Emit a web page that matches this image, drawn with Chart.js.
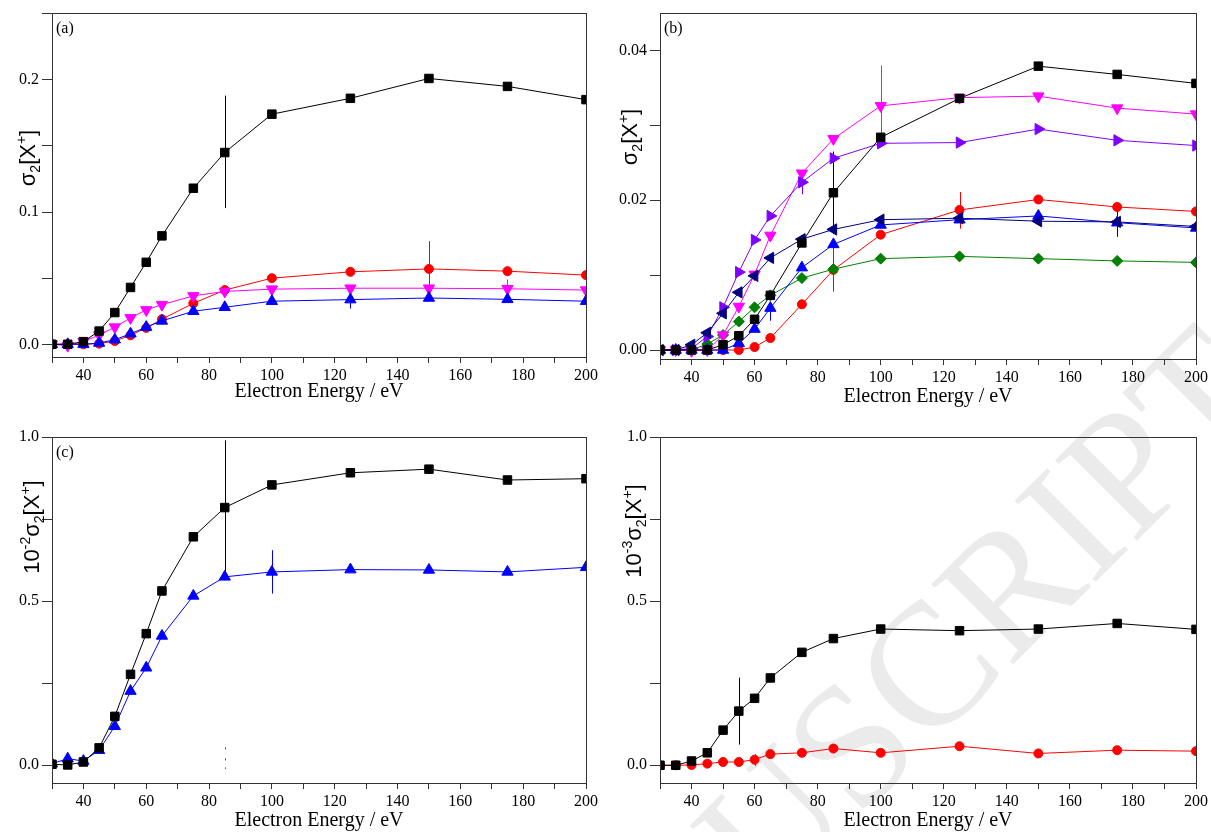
<!DOCTYPE html>
<html>
<head>
<meta charset="utf-8">
<script src="https://cdn.jsdelivr.net/npm/chart.js@4.4.1/dist/chart.umd.min.js"></script>
<style>
  html, body { margin: 0; padding: 0; background: #fff; width: 1211px; height: 832px; overflow: hidden; position: relative; }
  .panel { position: absolute; }
  .wm { position: absolute; left: 376px; top: 1095px; transform-origin: 0 0; transform: rotate(-45deg);
        font: 175px/1 "Liberation Serif", "Times New Roman", serif; color: #ebebeb; white-space: nowrap; }
</style>
</head>
<body>
<div class="wm">MANUSCRIPT</div>
<div class="panel" style="left:0;top:0;width:605px;height:416px"><canvas id="ca"></canvas></div>
<div class="panel" style="left:605px;top:0;width:606px;height:416px"><canvas id="cb"></canvas></div>
<div class="panel" style="left:0;top:420px;width:605px;height:430px"><canvas id="cc"></canvas></div>
<div class="panel" style="left:605px;top:420px;width:606px;height:430px"><canvas id="cd"></canvas></div>
<script>
  // electron energies (eV), shared by every series
  const energy = [30, 35, 40, 45, 50, 55, 60, 65, 75, 85, 100, 125, 150, 175, 200];
  const xLabelled = [40, 60, 80, 100, 120, 140, 160, 180, 200];

  // panel (a)
  const aBlack   = [0, 0, 0.002, 0.010, 0.024, 0.043, 0.062, 0.082, 0.118, 0.145, 0.174, 0.186, 0.201, 0.195, 0.185];
  const aRed     = [0, 0, 0, 0.0005, 0.0025, 0.0068, 0.0124, 0.019, 0.031, 0.041, 0.050, 0.0548, 0.057, 0.0553, 0.0523];
  const aMagenta = [0, -0.001, 0.002, 0.007, 0.013, 0.020, 0.026, 0.030, 0.0366, 0.040, 0.0417, 0.0424, 0.0424, 0.042, 0.041];
  const aBlue    = [0, 0, 0, 0.001, 0.0035, 0.008, 0.013, 0.0177, 0.025, 0.028, 0.0326, 0.0338, 0.035, 0.034, 0.0326];
  const aBlackErr   = [[85, 0.103, 0.188]];
  const aRedErr     = [[150, 0.036, 0.078]];
  const aMagentaErr = [[175, 0.035, 0.049]];
  const aBlueErr    = [[125, 0.027, 0.037]];
  const aYLabels = [0, 0.1, 0.2];

  // panel (b)
  const bBlack   = [0, 0, 0, 0, 0.0007, 0.0019, 0.0041, 0.0073, 0.0143, 0.021, 0.0284, 0.0336, 0.0379, 0.0368, 0.0356];
  const bMagenta = [0, 0, -0.0001, 0, 0.002, 0.0058, 0.0101, 0.0153, 0.0236, 0.0282, 0.0326, 0.0337, 0.0339, 0.0323, 0.0315];
  const bPurple  = [0, 0, 0.0002, 0.0018, 0.0057, 0.0104, 0.0147, 0.0179, 0.0224, 0.0256, 0.0276, 0.0277, 0.0295, 0.028, 0.0273];
  const bNavy    = [0, 0, 0.0007, 0.0023, 0.0049, 0.0077, 0.0099, 0.0123, 0.0148, 0.0161, 0.0174, 0.0176, 0.0172, 0.0171, 0.0165];
  const bBlue    = [0, 0, 0, 0, 0, 0.0009, 0.0028, 0.0056, 0.011, 0.0141, 0.0167, 0.0174, 0.0179, 0.017, 0.0163];
  const bRed     = [0, 0, 0, 0, 0, 0, 0.0004, 0.0016, 0.0061, 0.0107, 0.0154, 0.0187, 0.0201, 0.0191, 0.0185];
  const bGreen   = [0, 0, 0, 0.0008, 0.002, 0.0038, 0.0057, 0.0073, 0.0096, 0.0108, 0.0122, 0.0125, 0.0122, 0.0119, 0.0117];
  const bBlackErr   = [[85, 0.0155, 0.0265]];
  const bMagentaErr = [[100, 0.0273, 0.038]];
  const bPurpleErr  = [[75, 0.0208, 0.024]];
  const bNavyErr    = [[175, 0.0151, 0.0187]];
  const bBlueErr    = [[65, 0.0039, 0.0058]];
  const bRedErr     = [[125, 0.0162, 0.0211]];
  const bGreenErr   = [[85, 0.0078, 0.014]];
  const bYLabels = [0, 0.02, 0.04];

  // panel (c)
  const cBlack = [0.003, 0.001, 0.01, 0.053, 0.149, 0.277, 0.401, 0.531, 0.696, 0.785, 0.854, 0.891, 0.902, 0.869, 0.873];
  const cBlue  = [0.005, 0.020, 0.013, 0.046, 0.119, 0.226, 0.297, 0.394, 0.516, 0.574, 0.589, 0.596, 0.595, 0.589, 0.603];
  const cBlackErr   = [[85, 0.58, 0.99]];
  const cBlueErr    = [[100, 0.523, 0.655]];
  const cRedErr     = [[85, 0.015, 0.06]];
  const cMagentaErr = [[85, -0.012, 0.0]];
  const cYLabels = [0, 0.5, 1.0];

  // panel (d)
  const dBlack = [0, 0, 0.013, 0.038, 0.107, 0.165, 0.204, 0.266, 0.344, 0.386, 0.415, 0.410, 0.415, 0.432, 0.414];
  const dRed   = [0, 0, 0.001, 0.005, 0.010, 0.010, 0.017, 0.034, 0.038, 0.051, 0.038, 0.058, 0.036, 0.046, 0.043];
  const dBlackErr = [[55, 0.063, 0.267]];
  const dRedErr   = [[60, -0.002, 0.034]];

  Chart.defaults.font.family = '"Liberation Serif", "Times New Roman", serif';
  Chart.defaults.font.size = 16;
  Chart.defaults.color = '#000';

  const SQ    = {pointStyle: 'rect', pointRadius: 6};
  const CIR   = {pointStyle: 'circle', pointRadius: 4.5};
  const UP    = {pointStyle: 'triangle', pointRadius: 6.5};
  const DOWN  = {pointStyle: 'triangle', pointRadius: 6.5, pointRotation: 180};
  const RIGHT = {pointStyle: 'triangle', pointRadius: 6.5, pointRotation: 90};
  const LEFT  = {pointStyle: 'triangle', pointRadius: 6.5, pointRotation: -90};
  const DIA   = {pointStyle: 'rectRot', pointRadius: 5.5};

  function series(vals, color, marker, errs, dash) {
    return Object.assign({
      data: vals ? energy.map((e, i) => ({x: e, y: vals[i]})) : [],
      borderColor: color, backgroundColor: color,
      pointBackgroundColor: color, pointBorderColor: color,
      borderWidth: 1, pointBorderWidth: 1, tension: 0, fill: false,
      errorBars: errs || [], errDash: dash || []
    }, marker || {});
  }

  // vertical error bars, drawn under the markers
  const errPlugin = {
    id: 'errBars',
    beforeDatasetsDraw(chart) {
      const {ctx, scales: {x, y}} = chart;
      ctx.save();
      chart.data.datasets.forEach(ds => {
        ds.errorBars.forEach(e => {
          const px = Math.round(x.getPixelForValue(e[0])) + 0.5;
          ctx.strokeStyle = ds.borderColor;
          ctx.lineWidth = 1;
          ctx.setLineDash(ds.errDash);
          ctx.beginPath();
          ctx.moveTo(px, y.getPixelForValue(e[1]));
          ctx.lineTo(px, y.getPixelForValue(e[2]));
          ctx.stroke();
        });
      });
      ctx.restore();
    }
  };

  // box round the plot area
  const framePlugin = {
    id: 'frame',
    afterDraw(chart) {
      const {ctx, chartArea: a} = chart;
      ctx.save();
      ctx.strokeStyle = '#333';
      ctx.lineWidth = 1;
      ctx.strokeRect(Math.round(a.left) + 0.5, Math.round(a.top) + 0.5,
        Math.round(a.right - a.left), Math.round(a.bottom - a.top));
      ctx.restore();
    }
  };

  // rotated y title with sub/superscripts
  const yTitlePlugin = {
    id: 'yTitle',
    afterDraw(chart, args, o) {
      if (!o.parts) return;
      const ctx = chart.ctx;
      const big = '22px "Liberation Sans", Arial, sans-serif';
      const small = '14px "Liberation Sans", Arial, sans-serif';
      ctx.save();
      ctx.translate(o.x, o.y);
      ctx.rotate(-Math.PI / 2);
      ctx.fillStyle = '#000';
      ctx.textBaseline = 'alphabetic';
      let total = 0;
      o.parts.forEach(p => { ctx.font = p[1] ? small : big; total += ctx.measureText(p[0]).width; });
      let cx = -total / 2;
      o.parts.forEach(p => {
        ctx.font = p[1] ? small : big;
        const dy = p[1] === 'sub' ? 5 : (p[1] === 'sup' ? -9 : 0);
        ctx.fillText(p[0], cx, 8 + dy);
        cx += ctx.measureText(p[0]).width;
      });
      ctx.restore();
    }
  };

  const tagPlugin = {
    id: 'panelTag',
    afterDraw(chart, args, o) {
      if (!o.text) return;
      const {ctx, chartArea: a} = chart;
      ctx.save();
      ctx.font = '16px "Liberation Serif", "Times New Roman", serif';
      ctx.fillStyle = '#000';
      ctx.fillText(o.text, a.left + 4, a.top + 20);
      ctx.restore();
    }
  };

  const sigma = [['σ', ''], ['2', 'sub'], ['[X', ''], ['+', 'sup'], [']', '']];

  function makeChart(id, o) {
    return new Chart(document.getElementById(id), {
      type: 'line',
      data: {datasets: o.datasets},
      options: {
        responsive: true,
        maintainAspectRatio: false,
        animation: false,
        layout: {padding: o.pad},
        plugins: {
          legend: {display: false},
          tooltip: {enabled: false},
          yTitle: o.yTitle,
          panelTag: {text: o.tag}
        },
        scales: {
          x: {
            type: 'linear', min: 30, max: 200,
            afterFit: s => { s.height = o.xH; },
            grid: {drawOnChartArea: false, tickLength: 6, color: '#333'},
            border: {color: '#333'},
            ticks: {
              stepSize: 10, autoSkip: false, maxRotation: 0, padding: 3,
              callback: v => xLabelled.includes(v) ? String(v) : ''
            },
            title: {display: true, text: 'Electron Energy / eV', font: {size: 20}, padding: {top: 0, bottom: o.titlePb}}
          },
          y: {
            type: 'linear', min: o.yMin, max: o.yMax,
            afterFit: s => { s.width = o.yW; },
            grid: {drawOnChartArea: false, tickLength: 10, color: '#333'},
            border: {color: '#333'},
            ticks: {
              stepSize: o.yStep, includeBounds: false, autoSkip: false, padding: 3,
              callback: v => {
                const hit = o.yLabels.find(t => Math.abs(t - v) < o.yStep / 10);
                return hit === undefined ? '' : hit.toFixed(o.dec);
              }
            }
          }
        }
      },
      plugins: [errPlugin, framePlugin, yTitlePlugin, tagPlugin]
    });
  }

  makeChart('ca', {
    tag: '(a)', yMin: -0.0096, yMax: 0.2505, yStep: 0.05, yLabels: aYLabels, dec: 1,
    pad: {left: 0, top: 13, right: 19, bottom: 0}, yW: 52, xH: 59, titlePb: 12,
    yTitle: {x: 27, y: 158, parts: sigma},
    datasets: [
      series(aBlack, '#000000', SQ, aBlackErr),
      series(aBlue, '#0000ff', UP, aBlueErr),
      series(aMagenta, '#ff00ff', DOWN, aMagentaErr),
      series(aRed, '#ff0000', CIR, aRedErr)
    ]
  });

  makeChart('cb', {
    tag: '(b)', yMin: -0.0012, yMax: 0.045, yStep: 0.01, yLabels: bYLabels, dec: 2,
    pad: {left: 0, top: 13, right: 15, bottom: 0}, yW: 55, xH: 57, titlePb: 7,
    yTitle: {x: 24, y: 137, parts: sigma},
    datasets: [
      series(bBlack, '#000000', SQ, bBlackErr),
      series(bNavy, '#000080', LEFT, bNavyErr),
      series(bPurple, '#8000ff', RIGHT, bPurpleErr),
      series(bMagenta, '#ff00ff', DOWN, bMagentaErr),
      series(bBlue, '#0000ff', UP, bBlueErr),
      series(bGreen, '#008000', DIA, bGreenErr),
      series(bRed, '#ff0000', CIR, bRedErr)
    ]
  });

  makeChart('cc', {
    tag: '(c)', yMin: -0.054, yMax: 1.0, yStep: 0.25, yLabels: cYLabels, dec: 1,
    pad: {left: 0, top: 17, right: 19, bottom: 0}, yW: 52, xH: 67, titlePb: 17,
    yTitle: {x: 31, y: 107, parts: [['10', ''], ['-2', 'sup']].concat(sigma)},
    datasets: [
      series(cBlack, '#000000', SQ, cBlackErr),
      series(cBlue, '#0000ff', UP, cBlueErr),
      series(null, '#ff0000', CIR, cRedErr, [2, 9]),
      series(null, '#ff00ff', DOWN, cMagentaErr, [2, 6])
    ]
  });

  makeChart('cd', {
    tag: '', yMin: -0.054, yMax: 1.0, yStep: 0.25, yLabels: cYLabels, dec: 1,
    pad: {left: 0, top: 17, right: 15, bottom: 0}, yW: 55, xH: 67, titlePb: 17,
    yTitle: {x: 28, y: 111, parts: [['10', ''], ['-3', 'sup']].concat(sigma)},
    datasets: [
      series(dBlack, '#000000', SQ, dBlackErr),
      series(dRed, '#ff0000', CIR, dRedErr)
    ]
  });
</script>
</body>
</html>
